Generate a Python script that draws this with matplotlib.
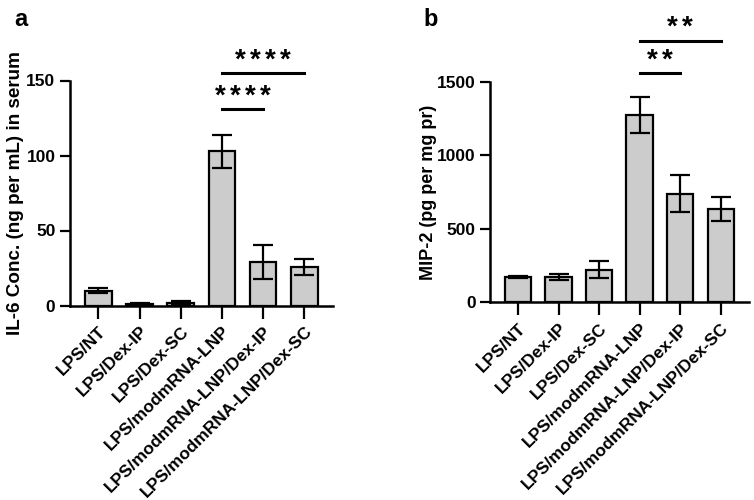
import matplotlib
matplotlib.use("Agg")
import matplotlib.pyplot as plt
import numpy as np

plt.rcParams['font.family'] = ['Liberation Sans', 'DejaVu Sans']
plt.rcParams['font.weight'] = 'bold'

groups = ["LPS/NT", "LPS/Dex-IP", "LPS/Dex-SC", "LPS/modmRNA-LNP",
          "LPS/modmRNA-LNP/Dex-IP", "LPS/modmRNA-LNP/Dex-SC"]

il6_mean = [10, 1, 1.5, 103, 29, 25.5]
il6_err = [1.5, 0.7, 1.2, 11, 11.5, 5.3]
il6_ticks = [0, 50, 100, 150]
il6_sig = [(3, 4, 131, 4), (3, 5, 155, 4)]

mip2_mean = [172, 172, 222, 1275, 740, 635]
mip2_err = [10, 22, 56, 120, 127, 80]
mip2_ticks = [0, 500, 1000, 1500]
mip2_sig = [(3, 4, 1558, 2), (3, 5, 1780, 2)]


def draw_panel(ax, means, errs, ticks, sig, ylabel, ylabel_size):
    x = np.arange(len(groups))
    ax.bar(x, means, width=0.65, color="#cccccc", edgecolor="black",
           linewidth=1.6, zorder=2)
    ax.errorbar(x, means, yerr=errs, fmt="none", ecolor="black",
                elinewidth=1.6, capsize=7, capthick=1.6, zorder=3)
    ax.set_xlim(-0.69, 5.7)
    ax.set_ylim(0, ticks[-1])
    ax.set_yticks(ticks)
    ax.set_xticks(x)
    ax.set_xticklabels(groups, rotation=45, ha="right",
                       rotation_mode="anchor", fontsize=12.5, fontweight="bold")
    ax.tick_params(axis="y", labelsize=12.5, width=1.6, length=7)
    ax.tick_params(axis="x", width=1.6, length=9, pad=4)
    for s in ["top", "right"]:
        ax.spines[s].set_visible(False)
    for s in ["left", "bottom"]:
        ax.spines[s].set_linewidth(1.8)
    ax.set_ylabel(ylabel, fontsize=ylabel_size, fontweight="bold")
    # significance bars, stars drawn one by one to get the wide spacing
    for x0, x1, y, n in sig:
        ax.plot([x0, x1], [y, y], color="black", lw=2.2, clip_on=False)
        for i in range(n):
            ax.annotate("*", xy=((x0 + x1) / 2, y),
                        xytext=((i - (n - 1) / 2) * 10.8, 4),
                        textcoords="offset points", ha="center", va="baseline",
                        fontsize=20, fontweight="bold", annotation_clip=False)


fig = plt.figure(figsize=(7.54, 5.0), dpi=100)
ax_a = fig.add_axes([0.0928, 0.389, 0.349, 0.45])
ax_b = fig.add_axes([0.650, 0.3954, 0.3435, 0.441])

draw_panel(ax_a, il6_mean, il6_err, il6_ticks, il6_sig,
           "IL-6 Conc. (ng per mL) in serum", 13.6)
draw_panel(ax_b, mip2_mean, mip2_err, mip2_ticks, mip2_sig,
           "MIP-2 (pg per mg pr)", 13)
ax_a.yaxis.set_label_coords(-0.175, 0.5)
ax_b.yaxis.set_label_coords(-0.205, 0.5)

fig.text(0.019, 0.985, "a", fontsize=17, fontweight="bold", va="top", ha="left")
fig.text(0.562, 0.985, "b", fontsize=17, fontweight="bold", va="top", ha="left")

fig.savefig("out.png", dpi=100)
